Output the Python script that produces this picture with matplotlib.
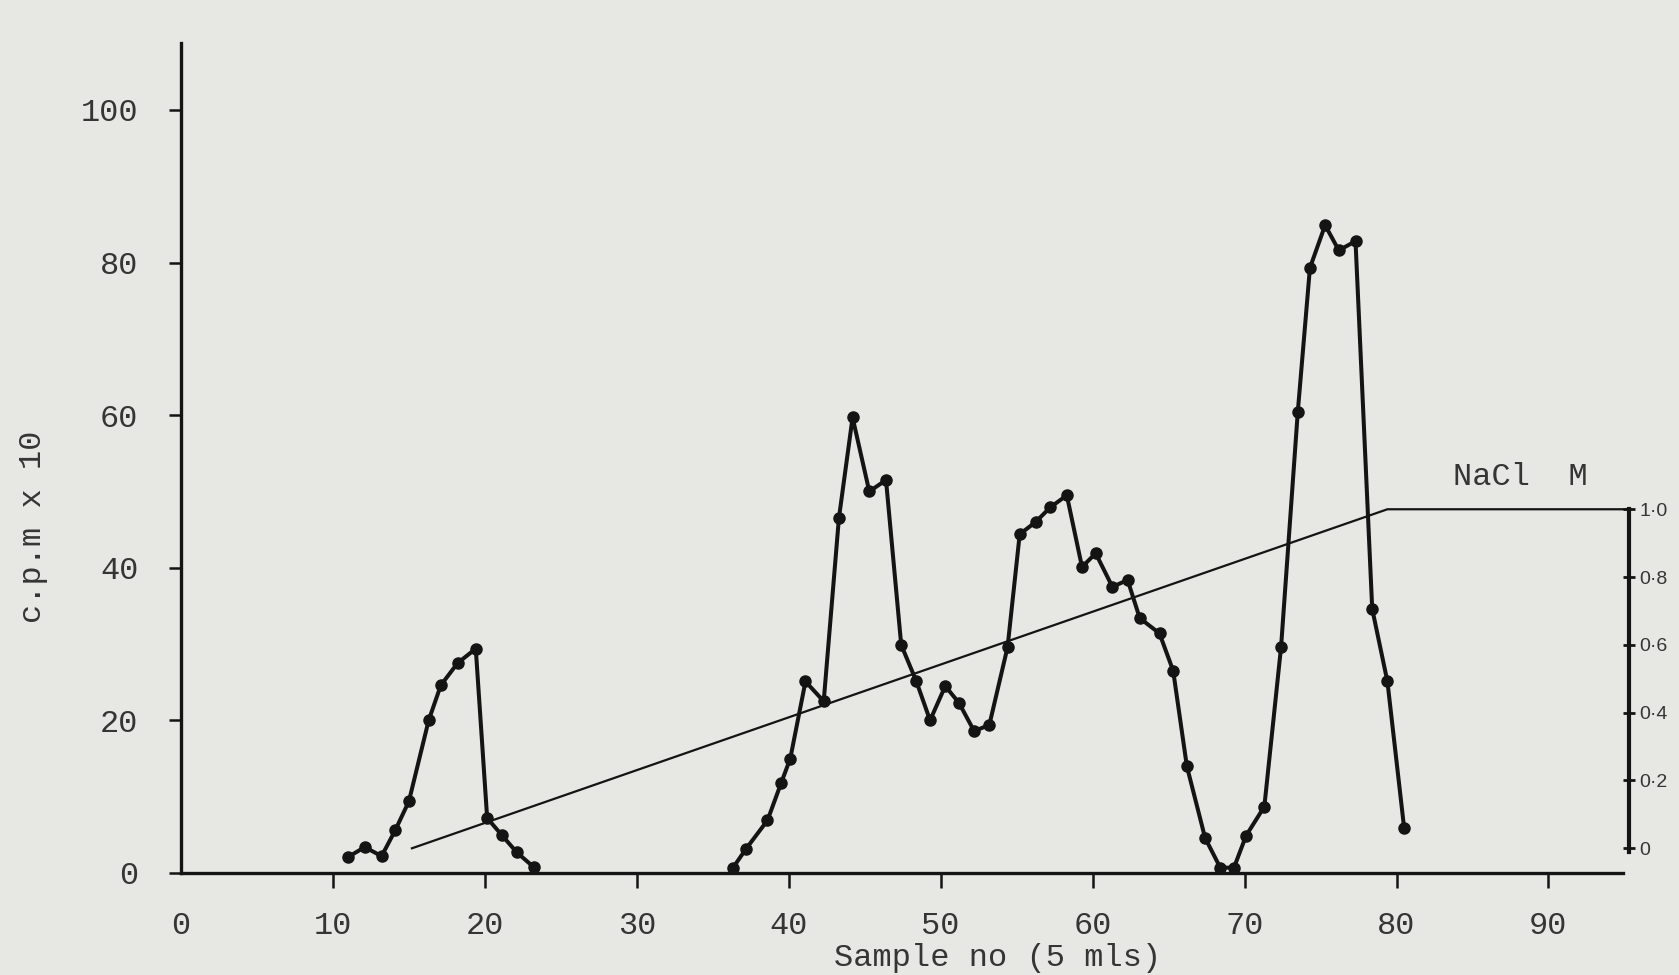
import numpy as np
import matplotlib
matplotlib.use("Agg")
import matplotlib.pyplot as plt

# ---- data ----
peak1_x = [11.0, 12.1, 13.2, 14.1, 15.0, 16.3, 17.1, 18.2, 19.4, 20.15, 21.1, 22.1, 23.2]
peak1_y = [2.1, 3.4, 2.2, 5.6, 9.4, 20.0, 24.6, 27.5, 29.4, 7.2, 5.0, 2.7, 0.8]

main_x = [36.3, 37.2, 38.6, 39.5, 40.1, 41.1, 42.3, 43.3, 44.2, 45.3, 46.4, 47.4, 48.4,
          49.3, 50.3, 51.2, 52.2, 53.2, 54.4, 55.2, 56.25, 57.2, 58.3, 59.3, 60.2, 61.3,
          62.3, 63.1, 64.4, 65.3, 66.2, 67.4, 68.4, 69.3, 70.1, 71.3, 72.4, 73.5, 74.3,
          75.3, 76.2, 77.3, 78.4, 79.4, 80.5]
main_y = [0.6, 3.2, 6.9, 11.8, 15.0, 25.1, 22.5, 46.5, 59.7, 50.0, 51.5, 29.9, 25.1,
          20.0, 24.5, 22.3, 18.6, 19.4, 29.6, 44.4, 46.0, 47.9, 49.5, 40.1, 41.9, 37.5,
          38.4, 33.4, 31.4, 26.5, 14.0, 4.6, 0.7, 0.7, 4.9, 8.7, 29.6, 60.4, 79.3,
          84.9, 81.6, 82.8, 34.6, 25.1, 5.9]

# NaCl gradient (M)
nacl_x = [15.2, 79.4, 95.3]
nacl_y = [0.0, 1.0, 1.0]

x_ticks = [0, 10, 20, 30, 40, 50, 60, 70, 80, 90]
y_ticks = [0, 20, 40, 60, 80, 100]
nacl_ticks = [0.0, 0.2, 0.4, 0.6, 0.8, 1.0]
nacl_labels = ["0", "0·2", "0·4", "0·6", "0·8", "1·0"]

# ---- styling ----
BG = "#e7e8e3"
INK = "#141414"
TXT = "#353535"
MONO = ["Liberation Mono", "DejaVu Sans Mono"]
FS = 23

fig = plt.figure(figsize=(16.79, 9.75), dpi=100, facecolor=BG)
ax = fig.add_axes([181 / 1679, 102 / 975, (1629 - 181) / 1679, (873 - 42.8) / 975])
ax.set_facecolor(BG)
ax.set_xlim(0, 95.3)
ax.set_ylim(0, 108.8)

ax.plot(peak1_x, peak1_y, color=INK, lw=2.9, marker="o", ms=8, zorder=3)
ax.plot(main_x, main_y, color=INK, lw=2.9, marker="o", ms=8, zorder=3)

for s in ["top", "right"]:
    ax.spines[s].set_visible(False)
ax.spines["left"].set_linewidth(2.4)
ax.spines["bottom"].set_linewidth(2.4)
ax.spines["left"].set_color(INK)
ax.spines["bottom"].set_color(INK)
ax.spines["bottom"].set_bounds(0, 94.9)

ax.set_xticks(x_ticks)
ax.set_yticks(y_ticks)
ax.set_xticklabels([str(v) for v in x_ticks], fontfamily=MONO, fontsize=FS, color=TXT)
ax.set_yticklabels([str(v) for v in y_ticks], fontfamily=MONO, fontsize=FS, color=TXT)
ax.tick_params(axis="x", direction="out", length=10.5, width=1.8, pad=17, color=INK)
ax.tick_params(axis="y", direction="out", length=8.6, width=1.8, pad=22, color=INK)
ax.xaxis.get_major_ticks()[0].tick1line.set_visible(False)
ax.yaxis.get_major_ticks()[0].tick1line.set_visible(False)

# secondary NaCl axis
ax2 = ax.twinx()
ax2.set_ylim(-0.0729, 2.3759)
ax2.set_xlim(0, 95.3)
for s in ["top", "left", "bottom"]:
    ax2.spines[s].set_visible(False)
ax2.spines["right"].set_bounds(-0.012, 1.0)
ax2.spines["right"].set_linewidth(3.0)
ax2.spines["right"].set_color(INK)
ax2.set_yticks(nacl_ticks)
ax2.set_yticklabels(nacl_labels, fontfamily=["Liberation Sans", "DejaVu Sans"],
                    fontsize=14, color=TXT)
ax2.tick_params(axis="y", direction="inout", length=9, width=2.0, pad=3, color=INK)
ax2.plot(nacl_x, nacl_y, color=INK, lw=1.6, zorder=2)

ax2.text(83.7, 1.0 + (51.9 - 47.67) / 44.43, "NaCl  M", fontfamily=MONO, fontsize=FS,
         color=TXT, ha="left", va="center")

fig.text(997.5 / 1679, 1 - 958 / 975, "Sample no (5 mls)", fontfamily=MONO, fontsize=FS,
         color=TXT, ha="center", va="center")
fig.text(33 / 1679, 1 - 527 / 975, "c.p.m x 10", fontfamily=MONO, fontsize=FS,
         color=TXT, ha="center", va="center", rotation=90)

fig.savefig("out.png", dpi=100, facecolor=BG)
